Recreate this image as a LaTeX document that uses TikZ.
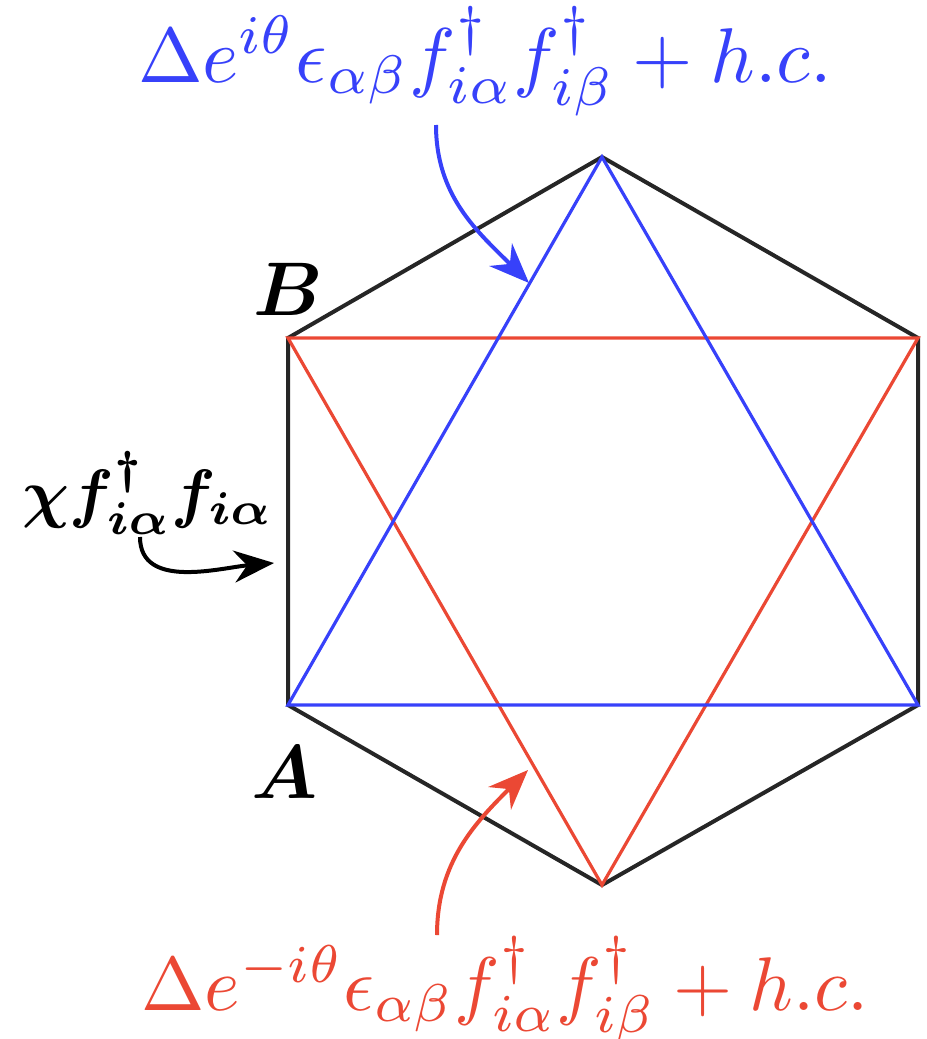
\documentclass[tikz,border=0pt]{standalone}
\usepackage{amsmath}
\usepackage{bm}
\usetikzlibrary{arrows.meta}
\definecolor{hexblue}{RGB}{55,65,250}
\definecolor{hexred}{RGB}{235,72,52}
\tikzset{
  hexedge/.style={draw=black!85, line width=0.5pt},
  blueline/.style={draw=hexblue, line width=0.4pt},
  redline/.style={draw=hexred, line width=0.4pt},
  pointer/.style={line width=0.5pt, -{Stealth[length=5pt,width=4pt]}},
  lab/.style={inner sep=0pt, anchor=base}
}
\begin{document}
\begin{tikzpicture}[x=0.125pt, y=-0.125pt]
\useasboundingbox (0,0) rectangle (927,1039);
% vertices
\coordinate (T)  at (602,157);
\coordinate (UR) at (918,338);
\coordinate (LR) at (918,705);
\coordinate (Bt) at (602,885);
\coordinate (LL) at (288,705);
\coordinate (UL) at (288,338);
% hexagon
\draw[hexedge] (T) -- (UR) -- (LR) -- (Bt) -- (LL) -- (UL) -- cycle;
% triangles
\draw[redline] (Bt) -- (UL) -- (UR) -- cycle;
\draw[blueline] (T) -- (LR) -- (LL) -- cycle;
% labels
\node[lab, scale=0.95] (labB) at (288,315) {$\bm{B}$};
\node[lab, scale=0.95] (labA) at (285,798) {$\bm{A}$};
\node[lab, text=hexblue, scale=0.97] (blab) at (485,82) {$\Delta e^{i\theta}\epsilon_{\alpha\beta}f^\dagger_{i\alpha}f^\dagger_{i\beta}+h.c.$};
\node[lab, text=hexred, scale=0.95] (rlab) at (505,1010) {$\Delta e^{-i\theta}\epsilon_{\alpha\beta}f^\dagger_{i\alpha}f^\dagger_{i\beta}+h.c.$};
\node[lab, scale=0.82] (clab) at (148,515) {$\bm{\chi f^\dagger_{i\alpha} f_{i\alpha}}$};
% arrows
\coordinate (bs) at (436,125);
\coordinate (be) at (529,283);
\coordinate (rs) at (437,935);
\coordinate (re) at (528,770);
\coordinate (cs) at (140,537);
\coordinate (ce) at (274,563);
\draw[pointer, hexblue] (bs) to[out=-90, in=135] (be);
\draw[pointer, hexred] (rs) to[out=90, in=-135] (re);
\draw[pointer, black] (cs) to[out=-90, in=185] (ce);
\end{tikzpicture}
\end{document}
